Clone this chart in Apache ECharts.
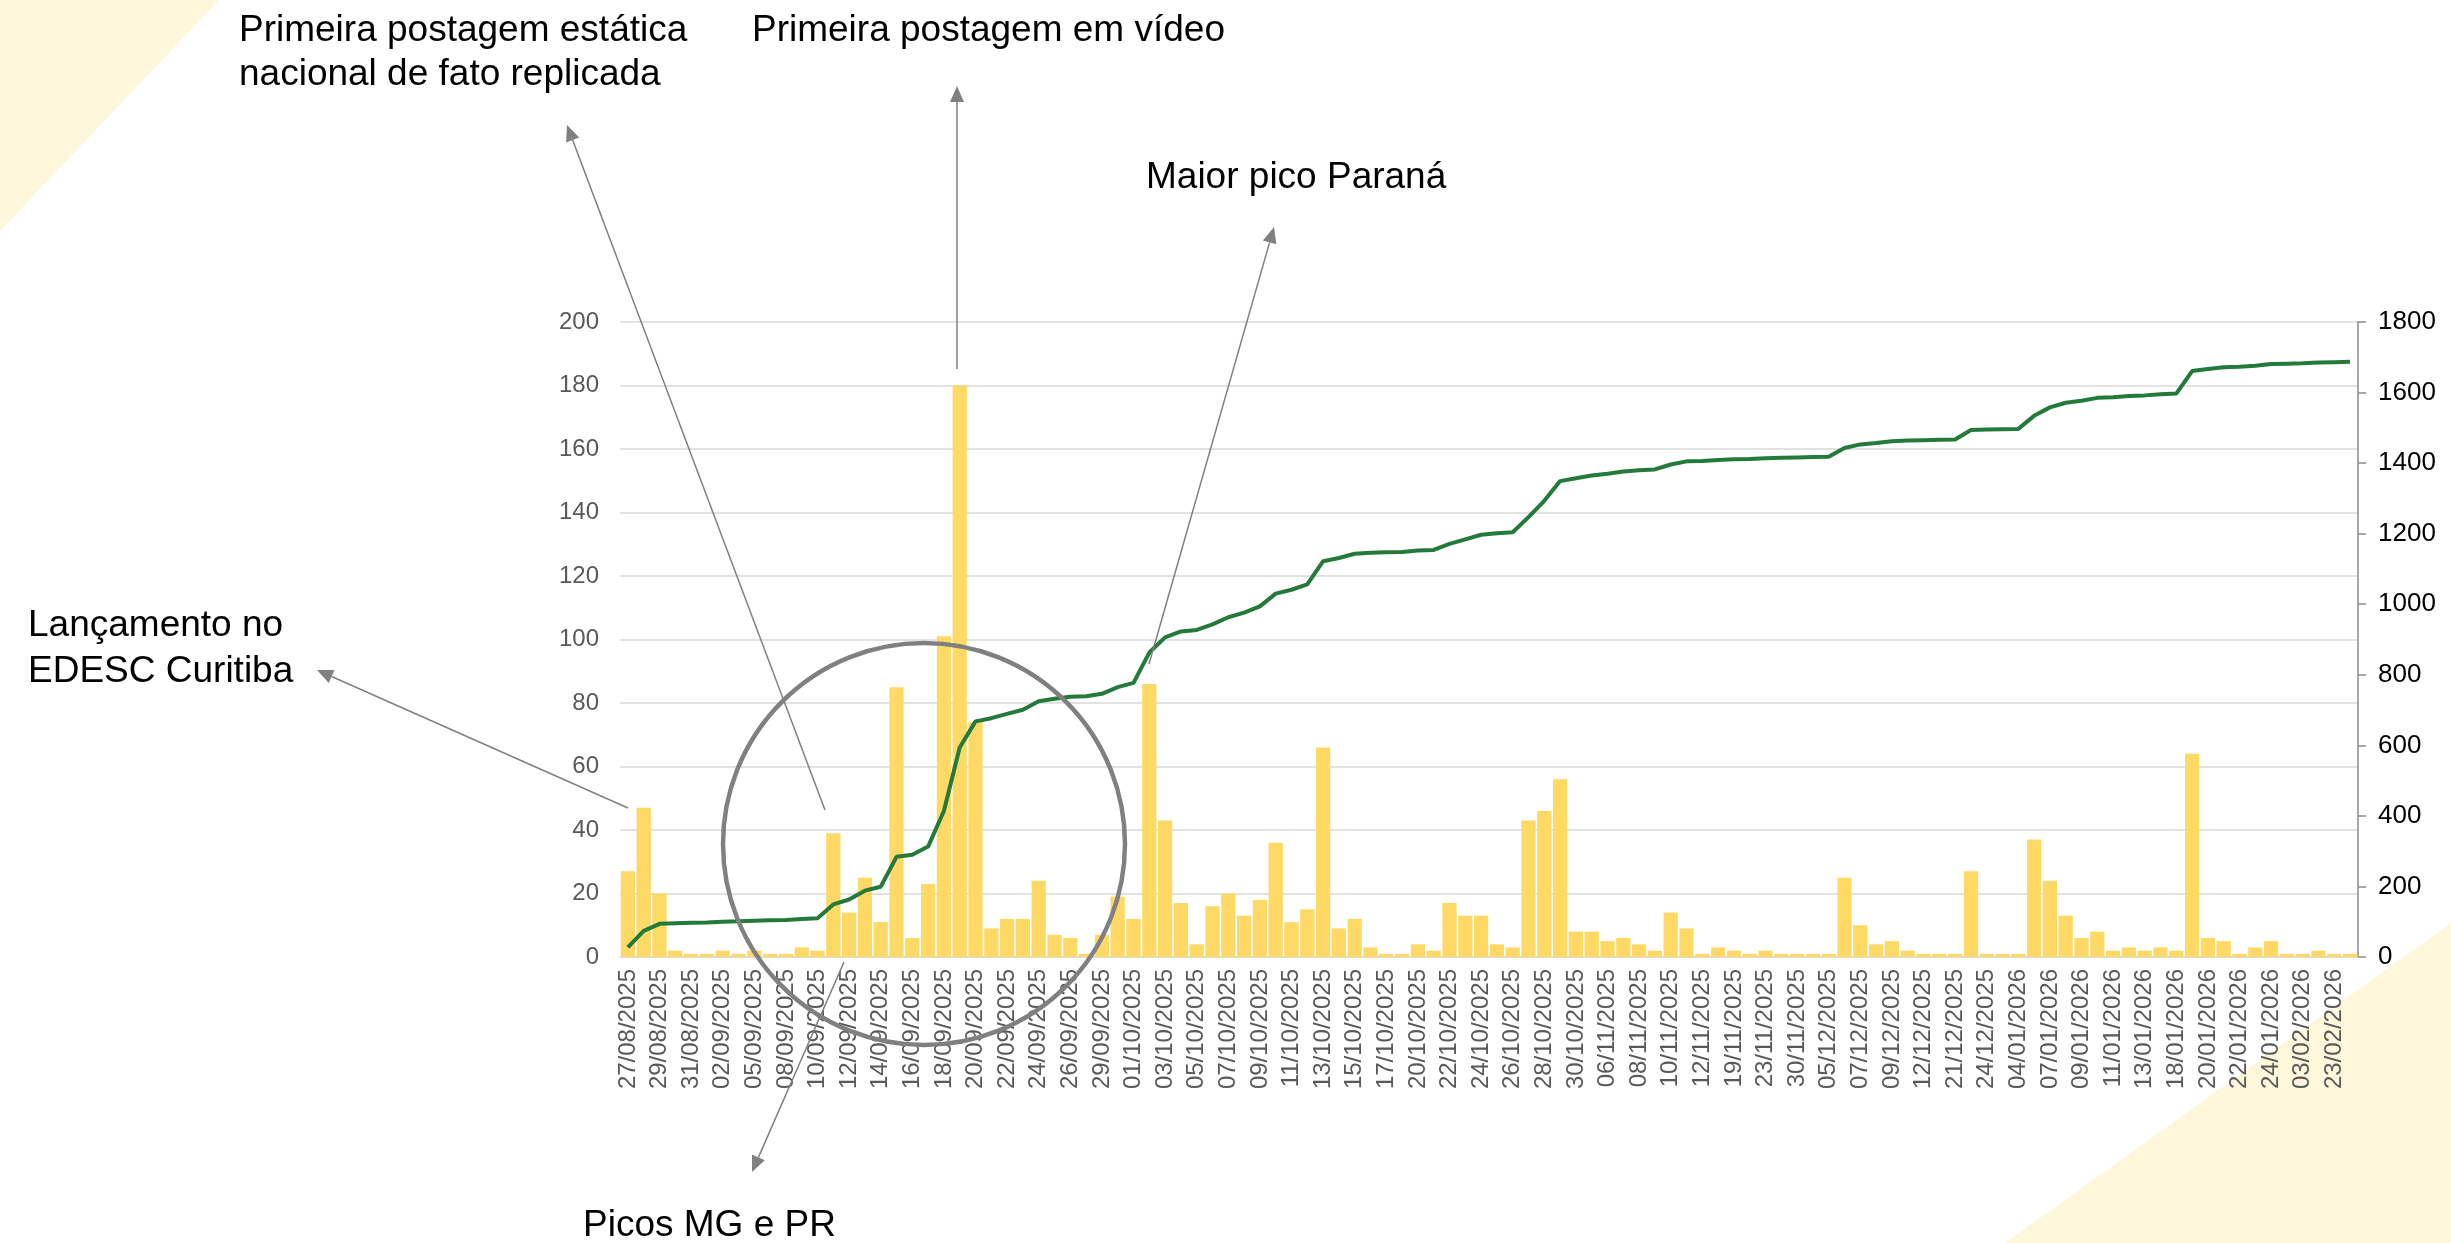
<!DOCTYPE html>
<html lang="pt">
<head>
    <meta charset="UTF-8">
    <title>Postagens diárias e acumulado</title>
    <script src="https://cdn.jsdelivr.net/npm/echarts@6/dist/echarts.min.js"></script>
    <style>
        body { margin: 0; background: #fff; }
    </style>
</head>
<body>
<div id="box" style="width: 2451px;height: 1243px;"></div>
<script>
    // datas (eixo x)
    var datas = [
        '27/08/2025','28/08/2025','29/08/2025','30/08/2025','31/08/2025','01/09/2025','02/09/2025','04/09/2025','05/09/2025','06/09/2025',
        '08/09/2025','09/09/2025','10/09/2025','11/09/2025','12/09/2025','13/09/2025','14/09/2025','15/09/2025','16/09/2025','17/09/2025',
        '18/09/2025','19/09/2025','20/09/2025','21/09/2025','22/09/2025','23/09/2025','24/09/2025','25/09/2025','26/09/2025','27/09/2025',
        '29/09/2025','30/09/2025','01/10/2025','02/10/2025','03/10/2025','04/10/2025','05/10/2025','06/10/2025','07/10/2025','08/10/2025',
        '09/10/2025','10/10/2025','11/10/2025','12/10/2025','13/10/2025','14/10/2025','15/10/2025','16/10/2025','17/10/2025','18/10/2025',
        '20/10/2025','21/10/2025','22/10/2025','23/10/2025','24/10/2025','25/10/2025','26/10/2025','27/10/2025','28/10/2025','29/10/2025',
        '30/10/2025','31/10/2025','06/11/2025','07/11/2025','08/11/2025','09/11/2025','10/11/2025','11/11/2025','12/11/2025','14/11/2025',
        '19/11/2025','21/11/2025','23/11/2025','26/11/2025','30/11/2025','02/12/2025','05/12/2025','06/12/2025','07/12/2025','08/12/2025',
        '09/12/2025','10/12/2025','12/12/2025','16/12/2025','21/12/2025','22/12/2025','24/12/2025','29/12/2025','04/01/2026','06/01/2026',
        '07/01/2026','08/01/2026','09/01/2026','10/01/2026','11/01/2026','12/01/2026','13/01/2026','15/01/2026','18/01/2026','19/01/2026',
        '20/01/2026','21/01/2026','22/01/2026','23/01/2026','24/01/2026','28/01/2026','03/02/2026','10/02/2026','23/02/2026','24/02/2026'
    ];

    // postagens por dia (eixo esquerdo)
    var diario = [
        27, 47, 20, 2, 1, 1, 2, 1, 2, 1,
        1, 3, 2, 39, 14, 25, 11, 85, 6, 23,
        101, 180, 74, 9, 12, 12, 24, 7, 6, 1,
        7, 19, 12, 86, 43, 17, 4, 16, 20, 13,
        18, 36, 11, 15, 66, 9, 12, 3, 1, 1,
        4, 2, 17, 13, 13, 4, 3, 43, 46, 56,
        8, 8, 5, 6, 4, 2, 14, 9, 1, 3,
        2, 1, 2, 1, 1, 1, 1, 25, 10, 4,
        5, 2, 1, 1, 1, 27, 1, 1, 1, 37,
        24, 13, 6, 8, 2, 3, 2, 3, 2, 64,
        6, 5, 1, 3, 5, 1, 1, 2, 1, 1
    ];

    // acumulado (eixo direito)
    var acumulado = [
        27, 74, 94, 96, 97, 98, 100, 101, 103, 104,
        105, 108, 110, 149, 163, 188, 199, 284, 290, 313,
        414, 594, 668, 677, 689, 701, 725, 732, 738, 739,
        746, 765, 777, 863, 906, 923, 927, 943, 963, 976,
        994, 1030, 1041, 1056, 1122, 1131, 1143, 1146, 1147, 1148,
        1152, 1154, 1171, 1184, 1197, 1201, 1204, 1247, 1293, 1349,
        1357, 1365, 1370, 1376, 1380, 1382, 1396, 1405, 1406, 1409,
        1411, 1412, 1414, 1415, 1416, 1417, 1418, 1443, 1453, 1457,
        1462, 1464, 1465, 1466, 1467, 1494, 1495, 1496, 1497, 1534,
        1558, 1571, 1577, 1585, 1587, 1590, 1592, 1595, 1597, 1661,
        1667, 1672, 1673, 1676, 1681, 1682, 1683, 1685, 1686, 1687
    ];

    var fonte = '"Liberation Sans", Arial, sans-serif';
    var cinza = '#808080';

    // seta: linha + ponta triangular
    function seta(x1, y1, x2, y2) {
        var dx = x2 - x1, dy = y2 - y1;
        var len = Math.sqrt(dx * dx + dy * dy);
        var ux = dx / len, uy = dy / len;
        var hl = 16, hw = 7;
        var bx = x2 - ux * hl, by = y2 - uy * hl;
        return [
            { type: 'line', z: 100, shape: { x1: x1, y1: y1, x2: bx, y2: by },
              style: { stroke: cinza, lineWidth: 1.5 } },
            { type: 'polygon', z: 100,
              shape: { points: [[x2, y2], [bx - uy * hw, by + ux * hw], [bx + uy * hw, by - ux * hw]] },
              style: { fill: cinza } }
        ];
    }

    function texto(t, x, y) {
        return { type: 'text', z: 100, x: x, y: y,
                 style: { text: t, fill: '#000', fontSize: 37, fontFamily: fonte, verticalAlign: 'middle' } };
    }

    var elementos = [
        { type: 'polygon', z: -100, shape: { points: [[0, 0], [219, 0], [0, 231]] }, style: { fill: '#FFF7DC' } },
        { type: 'polygon', z: -100, shape: { points: [[2005, 1243], [2451, 923], [2451, 1243]] }, style: { fill: '#FFF7DC' } },
        { type: 'circle', z: 100, shape: { cx: 924, cy: 844, r: 201 },
          style: { fill: 'none', stroke: cinza, lineWidth: 4.5 } },
        texto('Primeira postagem estática', 239, 31),
        texto('nacional de fato replicada', 239, 75),
        texto('Primeira postagem em vídeo', 752, 31),
        texto('Maior pico Paraná', 1146, 178),
        texto('Lançamento no', 28, 626),
        texto('EDESC Curitiba', 28, 672),
        texto('Picos MG e PR', 583, 1226)
    ];
    elementos = elementos
        .concat(seta(825, 810, 567, 125))
        .concat(seta(957, 369, 957, 86))
        .concat(seta(1149, 664, 1274, 227))
        .concat(seta(628, 808, 317, 670))
        .concat(seta(844, 962, 752, 1172));

    var myChart = echarts.init(document.getElementById('box'));
    var option = {
        animation: false,
        backgroundColor: '#fff',
        grid: { left: 620, right: 93, top: 322, bottom: 286 },
        xAxis: {
            type: 'category',
            data: datas,
            boundaryGap: true,
            axisLine: { lineStyle: { color: '#d9d9d9', width: 1.5 } },
            axisTick: { show: false },
            axisLabel: {
                interval: 1,
                rotate: 90,
                margin: 12,
                fontSize: 24,
                color: '#595959',
                fontFamily: fonte
            }
        },
        yAxis: [
            {
                type: 'value',
                min: 0,
                max: 200,
                interval: 20,
                axisLine: { show: false },
                axisTick: { show: false },
                axisLabel: { fontSize: 24, color: '#595959', margin: 21, fontFamily: fonte },
                splitLine: { lineStyle: { color: '#d9d9d9', width: 1.5 } }
            },
            {
                type: 'value',
                position: 'right',
                min: 0,
                max: 1800,
                interval: 200,
                axisLine: { show: true, lineStyle: { color: '#8c8c8c', width: 1.5 } },
                axisTick: { show: true, length: 8, lineStyle: { color: '#8c8c8c', width: 1.5 } },
                axisLabel: {
                    fontSize: 26, color: '#000', margin: 20, fontFamily: fonte,
                    formatter: function (v) { return String(v); }
                },
                splitLine: { show: false }
            }
        ],
        series: [
            {
                name: 'Postagens por dia',
                type: 'bar',
                yAxisIndex: 0,
                barCategoryGap: '10%',
                itemStyle: { color: '#FFD966' },
                data: diario
            },
            {
                name: 'Acumulado',
                type: 'line',
                yAxisIndex: 1,
                symbol: 'none',
                lineStyle: { color: '#237A3B', width: 4 },
                data: acumulado
            }
        ],
        graphic: { elements: elementos }
    };
    myChart.setOption(option);
</script>
</body>
</html>
